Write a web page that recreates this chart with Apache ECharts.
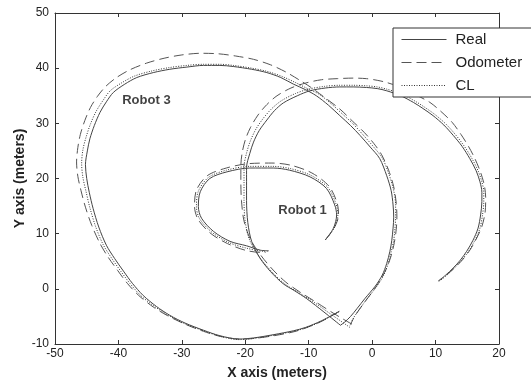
<!DOCTYPE html>
<html>
<head>
<meta charset="utf-8">
<script src="https://cdn.jsdelivr.net/npm/echarts@6/dist/echarts.min.js"></script>
<style>
	html, body { margin: 0; padding: 0; background: #fff; }
	#chart { width: 531px; height: 385px; }
</style>
</head>
<body>
<div id="chart"></div>
<script>
// legend names
const legendNames = ['Real', 'Odometer', 'CL'];

// Robot 1 (small spiral)
const robot1Real = [[-7.4,8.85],[-6.1,11.0],[-5.6,13.4],[-5.9,15.2],[-7.2,18.2],[-9.8,20.3],[-13.0,21.5],[-15.6,21.9],[-19.3,21.9],[-22.9,21.2],[-25.6,20.0],[-27.1,17.6],[-27.4,14.9],[-26.9,12.8],[-25.0,10.4],[-22.4,8.6],[-19.8,7.8],[-17.6,7.0],[-16.3,6.9]];
const robot1Odo = [[-7.4,8.85],[-6.0,11.0],[-5.3,13.4],[-5.5,15.5],[-6.8,18.6],[-9.5,21.0],[-12.8,22.4],[-15.8,22.8],[-19.4,22.7],[-23.0,21.9],[-26.0,20.5],[-27.7,17.9],[-28.0,14.9],[-27.4,12.5],[-25.4,10.0],[-22.8,8.2],[-20.0,7.0],[-17.5,6.6],[-16.8,6.6]];
const robot1CL = [[-7.4,8.85],[-6.0,11.0],[-5.4,13.4],[-5.7,15.4],[-7.0,18.4],[-9.7,20.6],[-12.9,21.8],[-15.7,22.2],[-19.3,22.2],[-23.0,21.5],[-25.8,20.2],[-27.4,17.7],[-27.7,14.9],[-27.2,12.7],[-25.2,10.2],[-22.6,8.4],[-19.9,7.4],[-17.0,6.8],[-16.5,6.8]];

// Robot 2 (arc ending at the right)
const robot2Real = [[-5.0,-6.6],[-7.6,-4.2],[-10.3,-1.8],[-12.3,-0.3],[-14.0,0.9],[-16.0,3.1],[-17.7,5.6],[-19.0,8.6],[-19.6,12],[-19.8,16],[-19.8,19.5],[-19.8,22.0],[-19.3,24.5],[-18.7,26.6],[-17.8,28.7],[-16.6,30.6],[-15.4,32.3],[-14.0,33.7],[-11.8,35.0],[-9.8,35.9],[-7.4,36.4],[-5.1,36.6],[-3.0,36.6],[-0.9,36.5],[0.8,36.3],[2.3,35.9],[4.5,35.0],[6.5,33.8],[8.0,32.7],[9.6,31.4],[11.3,29.7],[12.8,27.8],[14.2,25.8],[15.4,23.6],[16.4,21.4],[17.0,19.4],[17.3,17.5],[17.3,15.8],[17.1,13.4],[16.7,11.0],[15.9,8.8],[14.9,6.8],[13.9,5.2],[12.8,3.8],[11.6,2.5],[10.4,1.4]];
const robot2Odo = [[-3.2,-6.4],[-6.0,-4.5],[-9.0,-2.3],[-11.5,-0.5],[-13.6,1.2],[-15.6,3.4],[-17.5,6.0],[-19.2,9.0],[-20.2,12.3],[-20.6,16],[-20.7,19.5],[-20.7,22.2],[-20.5,24.6],[-20.0,27.0],[-19.2,29.2],[-18.0,31.5],[-16.6,33.4],[-15.0,35.0],[-12.8,36.4],[-10.5,37.3],[-8.0,37.9],[-5.5,38.1],[-3.0,38.2],[-0.9,38.1],[0.8,37.8],[2.3,37.4],[4.8,36.4],[7.0,35.1],[9.1,33.8],[10.8,32.2],[12.6,30.2],[14.0,28.0],[15.2,25.8],[16.2,23.6],[17.1,21.1],[17.7,18.7],[17.9,16.4],[17.8,13.8],[17.3,11.3],[16.4,9.0],[15.4,7.0],[14.2,5.2],[12.9,3.7],[11.6,2.4],[10.6,1.5]];
const robot2CL = [[-3.5,-7.0],[-6.5,-4.6],[-9.6,-2.1],[-12.0,-0.4],[-13.9,1.0],[-15.9,3.2],[-17.8,5.8],[-19.3,8.8],[-20.0,12.1],[-20.2,16],[-20.2,19.5],[-20.2,22.1],[-19.8,24.6],[-19.2,26.8],[-18.3,29.0],[-17.1,31.0],[-15.8,32.7],[-14.3,34.1],[-12.1,35.4],[-10.0,36.2],[-7.5,36.7],[-5.1,36.9],[-3.0,36.9],[-0.9,36.8],[0.8,36.6],[2.3,36.2],[4.7,35.3],[6.8,34.0],[8.3,32.9],[9.9,31.6],[11.6,29.9],[13.1,28.0],[14.5,25.9],[15.7,23.7],[16.7,21.4],[17.3,19.4],[17.6,17.5],[17.6,15.8],[17.4,13.4],[17.0,11.0],[16.2,8.8],[15.2,6.8],[14.1,5.2],[13.0,3.8],[11.8,2.5],[10.6,1.4]];

// Robot 3 (big loop)
const robot3Real = [[-5.2,-4.1],[-8,-5.8],[-10.5,-7.0],[-12.4,-7.6],[-15.5,-8.3],[-18.7,-8.9],[-21,-9.1],[-24,-8.5],[-26.6,-7.5],[-29.5,-6.2],[-31.9,-4.8],[-34,-3.2],[-36.1,-1.2],[-37.8,1.0],[-39.2,3.2],[-40.6,5.5],[-41.9,7.9],[-43.1,11.2],[-44.0,14.6],[-44.6,17.5],[-45.0,20.0],[-45.2,22.5],[-44.9,25.0],[-44.5,27.2],[-43.8,29.6],[-42.9,32.0],[-41.9,33.9],[-40.8,35.6],[-39.0,37.1],[-37.1,38.3],[-34.5,39.2],[-31.9,39.8],[-29.2,40.2],[-26.6,40.5],[-24,40.5],[-21.9,40.3],[-19,39.8],[-16.6,39.2],[-14.4,38.3],[-12.4,37.1],[-10.5,36.1],[-8.8,35.0],[-6.9,33.3],[-5.1,31.4],[-3.4,29.6],[-1.9,27.8],[-0.3,25.7],[1.2,23.6],[2.3,20.5],[3.0,17.8],[3.3,15.2],[3.4,13],[3.3,11.0],[3.1,8.8],[2.8,6.8],[2.3,4.6],[1.6,2.5],[0.5,0.5],[-1.1,-1.7],[-2.4,-3.6],[-3.4,-5.0],[-4.3,-6.0],[-5.0,-6.6]];
const robot3Odo = [[-5.2,-4.1],[-8,-5.9],[-10.5,-7.1],[-12.4,-7.8],[-15.5,-8.5],[-18.7,-9.0],[-21,-9.1],[-24,-8.6],[-26.6,-7.7],[-29.5,-6.4],[-32.2,-4.9],[-34.5,-3.3],[-36.8,-1.2],[-38.6,1.0],[-40.1,3.3],[-41.6,5.7],[-42.9,8.2],[-44.2,11.5],[-45.2,14.8],[-45.9,17.8],[-46.4,20.4],[-46.6,23.0],[-46.4,25.6],[-46.0,28.0],[-45.3,30.5],[-44.4,32.9],[-43.3,34.9],[-42.0,36.7],[-40.3,38.3],[-38.2,39.7],[-35.6,40.9],[-32.8,41.8],[-30.0,42.4],[-27.0,42.7],[-24.2,42.6],[-21.5,42.2],[-18.7,41.6],[-16.0,40.6],[-13.6,39.3],[-11.4,37.8],[-9.5,36.4],[-7.5,34.7],[-5.1,32.6],[-3.1,30.4],[-1.2,28.3],[0.3,26.3],[1.5,24.3],[2.6,21.5],[3.4,18.5],[3.8,15.5],[3.9,13],[3.8,10.8],[3.5,8.4],[3.0,6.0],[2.3,3.8],[1.3,1.6],[0.0,-0.6],[-1.3,-2.6],[-2.3,-4.2],[-3.0,-5.5],[-3.4,-6.5]];
const robot3CL = [[-5.2,-4.1],[-8,-5.9],[-10.5,-7.1],[-12.4,-7.7],[-15.5,-8.4],[-18.7,-9.0],[-21,-9.2],[-24,-8.6],[-26.6,-7.6],[-29.6,-6.3],[-32.1,-4.8],[-34.3,-3.2],[-36.5,-1.2],[-38.2,1.0],[-39.7,3.3],[-41.1,5.6],[-42.4,8.0],[-43.6,11.3],[-44.5,14.7],[-45.1,17.6],[-45.6,20.2],[-45.8,22.7],[-45.6,25.2],[-45.1,27.5],[-44.4,29.9],[-43.5,32.2],[-42.4,34.2],[-41.3,35.9],[-39.4,37.4],[-37.4,38.6],[-34.7,39.5],[-32.0,40.1],[-29.2,40.5],[-26.6,40.7],[-24,40.7],[-21.9,40.5],[-19,40.0],[-16.5,39.4],[-14.2,38.5],[-12.1,37.4],[-10.2,36.3],[-8.4,35.3],[-6.5,33.6],[-4.7,31.7],[-3.0,29.9],[-1.5,28.0],[0.1,25.9],[1.6,23.7],[2.7,20.6],[3.4,17.8],[3.7,15.2],[3.7,13],[3.6,11.0],[3.4,8.8],[3.0,6.7],[2.5,4.5],[1.8,2.4],[0.7,0.4],[-0.8,-1.8],[-2.0,-3.7],[-2.9,-5.2],[-3.5,-6.6]];

// robot labels
const robotLabels = [[-39.4, 34.1, 'Robot 3'], [-14.8, 14.3, 'Robot 1']];

const FONT = 'Liberation Sans, Arial, sans-serif';
const AXIS_COLOR = '#333';

const styles = {
	'Real': { color: '#444', type: 'solid', width: 1 },
	'Odometer': { color: '#555', type: [10, 5], width: 1 },
	'CL': { color: '#333', type: [1, 1.5], width: 1 }
};

function lineSeries(name, data) {
	return {
		name: name,
		type: 'line',
		data: data,
		showSymbol: false,
		symbol: 'none',
		smooth: 0.3,
		silent: true,
		color: styles[name].color,
		lineStyle: styles[name]
	};
}

const series = [
	lineSeries('Real', robot1Real), lineSeries('Odometer', robot1Odo), lineSeries('CL', robot1CL),
	lineSeries('Real', robot2Real), lineSeries('Odometer', robot2Odo), lineSeries('CL', robot2CL),
	lineSeries('Real', robot3Real), lineSeries('Odometer', robot3Odo), lineSeries('CL', robot3CL),
	{
		name: 'labels',
		type: 'scatter',
		symbolSize: 0,
		silent: true,
		data: robotLabels,
		label: {
			show: true,
			position: 'right',
			distance: 0,
			formatter: p => p.value[2],
			fontFamily: FONT,
			fontWeight: 'bold',
			fontSize: 13,
			color: '#111'
		}
	}
];

function boxAxis(position, min, max) {
	return {
		type: 'value',
		position: position,
		min: min, max: max, interval: 10,
		axisLine: { show: true, onZero: false, lineStyle: { color: AXIS_COLOR, width: 1 } },
		axisTick: { show: true, inside: true, length: 4, lineStyle: { color: AXIS_COLOR } },
		axisLabel: { show: false },
		splitLine: { show: false }
	};
}

const chart = echarts.init(document.getElementById('chart'));
chart.setOption({
	backgroundColor: '#fff',
	animation: false,
	grid: { left: 55, right: 32, top: 13, bottom: 39 },
	legend: {
		data: legendNames,
		orient: 'vertical',
		left: 393,
		top: 28,
		padding: [4, 14, 4, 8],
		itemGap: 8,
		itemWidth: 45,
		itemHeight: 15,
		backgroundColor: '#fff',
		borderColor: AXIS_COLOR,
		borderWidth: 1,
		borderRadius: 0,
		itemStyle: { opacity: 0 },
		lineStyle: { width: 1 },
		textStyle: { fontFamily: FONT, fontSize: 15, color: '#222', padding: [0, 0, 0, 4] }
	},
	xAxis: [
		Object.assign(boxAxis('bottom', -50, 20), {
			axisLabel: { show: true, fontFamily: FONT, fontSize: 12, color: '#222', margin: 4 },
			name: 'X axis (meters)',
			nameLocation: 'middle',
			nameGap: 22,
			nameMoveOverlap: false,
			nameTextStyle: { fontFamily: FONT, fontSize: 14, fontWeight: 'bold', color: '#222' }
		}),
		boxAxis('top', -50, 20)
	],
	yAxis: [
		Object.assign(boxAxis('left', -10, 50), {
			axisLabel: { show: true, fontFamily: FONT, fontSize: 12, color: '#222', margin: 6 },
			name: 'Y axis (meters)',
			nameLocation: 'middle',
			nameGap: 28,
			nameMoveOverlap: false,
			nameTextStyle: { fontFamily: FONT, fontSize: 14, fontWeight: 'bold', color: '#222' }
		}),
		boxAxis('right', -10, 50)
	],
	series: series
});
</script>
</body>
</html>
